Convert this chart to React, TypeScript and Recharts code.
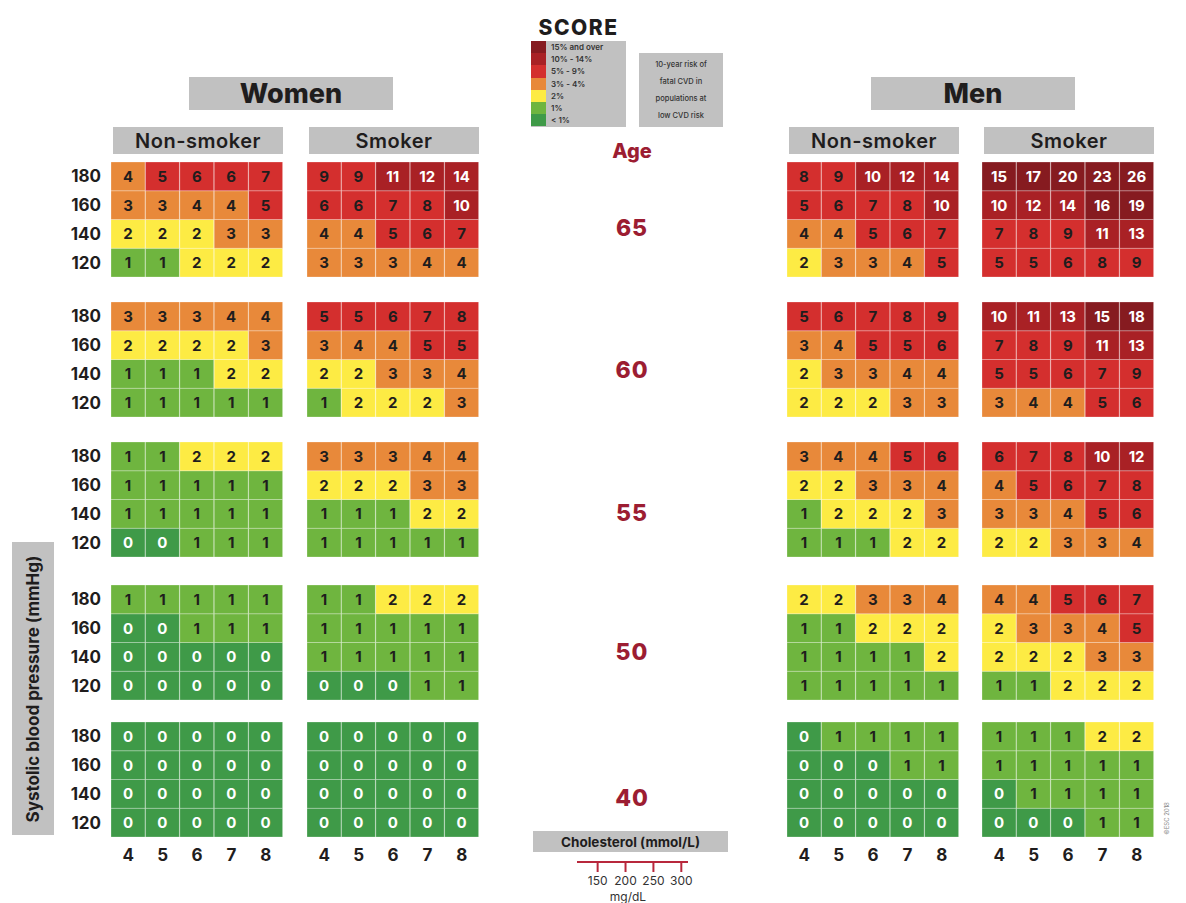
import React from "react"
import { BarChart, Bar, XAxis, YAxis, Cell, LabelList, LineChart } from "recharts"

// axes
const cholesterol = [4, 5, 6, 7, 8]
const systolic = [180, 160, 140, 120]
const ages = [65, 60, 55, 50, 40]
const mgdl = [150, 200, 250, 300]

// legend
const riskLabels = ["15% and over", "10% - 14%", "5% - 9%", "3% - 4%", "2%", "1%", "< 1%"]
const riskColors = ["#861b20", "#a92125", "#d42f2e", "#e8893a", "#fdeb44", "#6fb53f", "#3f9a48"]

// 10-year risk (%), one 4x5 table per age: rows SBP 180..120, columns cholesterol 4..8
const womenNonSmoker = [
  [[4, 5, 6, 6, 7], [3, 3, 4, 4, 5], [2, 2, 2, 3, 3], [1, 1, 2, 2, 2]],
  [[3, 3, 3, 4, 4], [2, 2, 2, 2, 3], [1, 1, 1, 2, 2], [1, 1, 1, 1, 1]],
  [[1, 1, 2, 2, 2], [1, 1, 1, 1, 1], [1, 1, 1, 1, 1], [0, 0, 1, 1, 1]],
  [[1, 1, 1, 1, 1], [0, 0, 1, 1, 1], [0, 0, 0, 0, 0], [0, 0, 0, 0, 0]],
  [[0, 0, 0, 0, 0], [0, 0, 0, 0, 0], [0, 0, 0, 0, 0], [0, 0, 0, 0, 0]],
]
const womenSmoker = [
  [[9, 9, 11, 12, 14], [6, 6, 7, 8, 10], [4, 4, 5, 6, 7], [3, 3, 3, 4, 4]],
  [[5, 5, 6, 7, 8], [3, 4, 4, 5, 5], [2, 2, 3, 3, 4], [1, 2, 2, 2, 3]],
  [[3, 3, 3, 4, 4], [2, 2, 2, 3, 3], [1, 1, 1, 2, 2], [1, 1, 1, 1, 1]],
  [[1, 1, 2, 2, 2], [1, 1, 1, 1, 1], [1, 1, 1, 1, 1], [0, 0, 0, 1, 1]],
  [[0, 0, 0, 0, 0], [0, 0, 0, 0, 0], [0, 0, 0, 0, 0], [0, 0, 0, 0, 0]],
]
const menNonSmoker = [
  [[8, 9, 10, 12, 14], [5, 6, 7, 8, 10], [4, 4, 5, 6, 7], [2, 3, 3, 4, 5]],
  [[5, 6, 7, 8, 9], [3, 4, 5, 5, 6], [2, 3, 3, 4, 4], [2, 2, 2, 3, 3]],
  [[3, 4, 4, 5, 6], [2, 2, 3, 3, 4], [1, 2, 2, 2, 3], [1, 1, 1, 2, 2]],
  [[2, 2, 3, 3, 4], [1, 1, 2, 2, 2], [1, 1, 1, 1, 2], [1, 1, 1, 1, 1]],
  [[0, 1, 1, 1, 1], [0, 0, 0, 1, 1], [0, 0, 0, 0, 0], [0, 0, 0, 0, 0]],
]
const menSmoker = [
  [[15, 17, 20, 23, 26], [10, 12, 14, 16, 19], [7, 8, 9, 11, 13], [5, 5, 6, 8, 9]],
  [[10, 11, 13, 15, 18], [7, 8, 9, 11, 13], [5, 5, 6, 7, 9], [3, 4, 4, 5, 6]],
  [[6, 7, 8, 10, 12], [4, 5, 6, 7, 8], [3, 3, 4, 5, 6], [2, 2, 3, 3, 4]],
  [[4, 4, 5, 6, 7], [2, 3, 3, 4, 5], [2, 2, 2, 3, 3], [1, 1, 2, 2, 2]],
  [[1, 1, 1, 2, 2], [1, 1, 1, 1, 1], [0, 1, 1, 1, 1], [0, 0, 0, 1, 1]],
]

const groups = [womenNonSmoker, womenSmoker, menNonSmoker, menSmoker]

// layout
const groupLefts = [111, 307, 787, 982]
const blockTops = [162, 302, 442, 585, 722]
const ageCenters = [228, 370, 513, 652, 798]
const cellsW = 172
const cellsH = 115
const sbpAxisW = 45
const cholAxisH = 32

const gray = "#c1c1c1"
const ink = "#1f1d1d"
const maroon = "#9c1d32"

function riskColor(v: number) {
  if (v >= 15) return riskColors[0]
  if (v >= 10) return riskColors[1]
  if (v >= 5) return riskColors[2]
  if (v >= 3) return riskColors[3]
  if (v === 2) return riskColors[4]
  if (v === 1) return riskColors[5]
  return riskColors[6]
}

const renderValue = (props: any) => {
  const { x, y, width, height, value } = props
  const light = value === 0 || value >= 10
  return (
    <text
      x={Number(x) + Number(width) / 2}
      y={Number(y) + Number(height) / 2}
      textAnchor="middle"
      dominantBaseline="central"
      fill={light ? "#ffffff" : ink}
      fontSize={15}
      fontWeight={700}
      fontFamily="Inter"
    >
      {value}
    </text>
  )
}

function Panel({ table, showSbp, showChol }: { table: number[][]; showSbp: boolean; showChol: boolean }) {
  const data = cholesterol.map((c, j) => {
    const row: any = { chol: c }
    systolic.forEach((s, i) => {
      row["u" + s] = 1
      row["r" + s] = table[i][j]
    })
    return row
  })
  // stack bottom-up: 120 first
  const stackOrder = [...systolic].reverse()
  return (
    <BarChart
      width={cellsW + (showSbp ? sbpAxisW : 0)}
      height={cellsH + (showChol ? cholAxisH : 0)}
      data={data}
      margin={{ top: 0, right: 0, bottom: 0, left: 0 }}
      barCategoryGap={0}
      barGap={0}
    >
      <XAxis
        dataKey="chol"
        hide={!showChol}
        height={cholAxisH}
        axisLine={false}
        tickLine={false}
        tickSize={0}
        tickMargin={12}
        tick={{ fontSize: 17, fontWeight: 700, fill: ink, fontFamily: "Inter" }}
      />
      <YAxis
        type="number"
        domain={[0, 4]}
        ticks={[0.5, 1.5, 2.5, 3.5]}
        tickFormatter={(v: number) => String(stackOrder[Math.floor(v)])}
        hide={!showSbp}
        width={sbpAxisW}
        axisLine={false}
        tickLine={false}
        tickSize={0}
        tickMargin={10}
        tick={{ fontSize: 17, fontWeight: 700, fill: ink, fontFamily: "Inter" }}
      />
      {stackOrder.map((s) => (
        <Bar key={s} dataKey={"u" + s} stackId="cells" isAnimationActive={false}>
          {data.map((d, j) => (
            <Cell key={j} fill={riskColor(d["r" + s])} stroke="rgba(255,255,255,0.25)" strokeWidth={1} />
          ))}
          <LabelList dataKey={"r" + s} content={renderValue} />
        </Bar>
      ))}
    </BarChart>
  )
}

function GrayBox({ left, top, width, height, children, style }: any) {
  return (
    <div
      style={{
        position: "absolute",
        left,
        top,
        width,
        height,
        background: gray,
        display: "flex",
        alignItems: "center",
        justifyContent: "center",
        color: ink,
        ...style,
      }}
    >
      {children}
    </div>
  )
}

export default function App() {
  const mgData = mgdl.map((m) => ({ mg: m }))
  return (
    <div
      style={{
        position: "absolute",
        left: 0,
        top: 0,
        width: 1186,
        height: 903,
        background: "#fff",
        fontFamily: "Inter, 'Noto Sans', sans-serif",
        overflow: "hidden",
      }}
    >
      {/* logo + legend */}
      <div
        style={{
          position: "absolute",
          left: 531,
          top: 16,
          width: 95,
          textAlign: "center",
          fontSize: 21,
          fontWeight: 800,
          letterSpacing: 1.5,
          color: ink,
          lineHeight: "24px",
        }}
      >
        SCORE
      </div>
      <div style={{ position: "absolute", left: 531, top: 41, width: 95, height: 86, background: gray }}>
        {riskLabels.map((lab, i) => (
          <div key={lab} style={{ display: "flex", height: 12.2, alignItems: "center" }}>
            <div style={{ width: 15, height: 12.2, background: riskColors[i] }} />
            <div style={{ marginLeft: 5, fontSize: 8, fontWeight: 600, color: "#333", whiteSpace: "nowrap" }}>{lab}</div>
          </div>
        ))}
      </div>
      <div
        style={{
          position: "absolute",
          left: 639,
          top: 53,
          width: 84,
          height: 74,
          background: gray,
          display: "flex",
          flexDirection: "column",
          justifyContent: "space-around",
          alignItems: "center",
          fontSize: 7.5,
          fontWeight: 500,
          color: "#333",
          padding: "3px 0",
          boxSizing: "border-box",
        }}
      >
        <div>10-year risk of</div>
        <div>fatal CVD in</div>
        <div>populations at</div>
        <div>low CVD risk</div>
      </div>

      {/* headers */}
      <GrayBox left={189} top={77} width={204} height={33} style={{ fontSize: 27, fontWeight: 800 }}>
        Women
      </GrayBox>
      <GrayBox left={871} top={77} width={204} height={33} style={{ fontSize: 27, fontWeight: 800 }}>
        Men
      </GrayBox>
      {groupLefts.map((x, g) => (
        <GrayBox key={g} left={x + 2} top={127} width={cellsW - 2} height={27} style={{ fontSize: 20, fontWeight: 600, letterSpacing: 0.5 }}>
          {g % 2 === 0 ? "Non-smoker" : "Smoker"}
        </GrayBox>
      ))}

      {/* age column */}
      <div
        style={{
          position: "absolute",
          left: 582,
          top: 139,
          width: 100,
          textAlign: "center",
          fontSize: 20,
          fontWeight: 800,
          color: maroon,
        }}
      >
        Age
      </div>
      {ages.map((a, k) => (
        <div
          key={a}
          style={{
            position: "absolute",
            left: 582,
            top: ageCenters[k] - 15,
            width: 100,
            height: 30,
            lineHeight: "30px",
            textAlign: "center",
            fontSize: 23,
            fontWeight: 800,
            color: maroon,
            letterSpacing: 1,
          }}
        >
          {a}
        </div>
      ))}

      {/* risk panels */}
      {groups.map((blocks, g) =>
        blocks.map((table, k) => {
          const showSbp = g === 0
          const showChol = k === blocks.length - 1
          return (
            <div
              key={g + "-" + k}
              style={{ position: "absolute", left: groupLefts[g] - (showSbp ? sbpAxisW : 0), top: blockTops[k] }}
            >
              <Panel table={table} showSbp={showSbp} showChol={showChol} />
            </div>
          )
        })
      )}

      {/* axis titles */}
      <GrayBox left={12} top={542} width={42} height={293}>
        <div style={{ transform: "rotate(-90deg)", whiteSpace: "nowrap", fontSize: 17, fontWeight: 700 }}>
          Systolic blood pressure (mmHg)
        </div>
      </GrayBox>
      <GrayBox left={533} top={831} width={195} height={21} style={{ fontSize: 13.5, fontWeight: 700 }}>
        Cholesterol (mmol/L)
      </GrayBox>

      {/* mg/dL scale */}
      <div style={{ position: "absolute", left: 557, top: 850 }}>
        <LineChart width={151} height={42} data={mgData} margin={{ top: 0, right: 20, bottom: 0, left: 20 }}>
          <XAxis
            dataKey="mg"
            type="number"
            domain={[113, 312]}
            ticks={mgdl}
            height={30}
            axisLine={{ stroke: "#b8283c", strokeWidth: 2 }}
            tickLine={{ stroke: "#b8283c", strokeWidth: 2 }}
            tickSize={10}
            tickMargin={4}
            tick={{ fontSize: 12, fill: "#333", fontFamily: "Inter" }}
          />
        </LineChart>
      </div>
      <div style={{ position: "absolute", left: 598, top: 889, width: 60, textAlign: "center", fontSize: 12, color: "#333" }}>
        mg/dL
      </div>

      <div
        style={{
          position: "absolute",
          left: 1146,
          top: 815,
          width: 40,
          textAlign: "center",
          transform: "rotate(-90deg)",
          fontSize: 6,
          color: "#888",
          whiteSpace: "nowrap",
        }}
      >
        ©ESC 2018
      </div>
    </div>
  )
}
